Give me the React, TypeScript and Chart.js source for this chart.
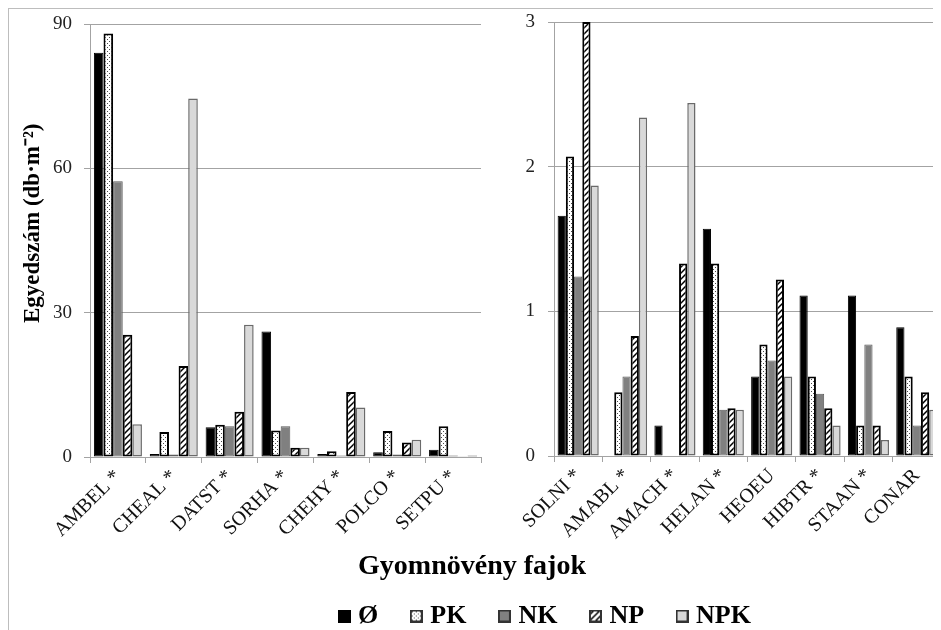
import React, { useEffect, useRef } from 'react';
import { Chart, registerables } from 'chart.js';
Chart.register(...registerables);

const leftCategories = ['AMBEL *', 'CHEAL *', 'DATST *', 'SORHA *', 'CHEHY *', 'POLCO *', 'SETPU *'];
const rightCategories = ['SOLNI *', 'AMABL *', 'AMACH *', 'HELAN *', 'HEOEU', 'HIBTR *', 'STAAN *', 'CONAR'];
const seriesNames = ['Ø', 'PK', 'NK', 'NP', 'NPK'];

const leftO = [84, 0.6, 6.2, 26.1, 0.6, 1.0, 1.5];
const leftPK = [88, 5.2, 6.7, 5.5, 1.2, 5.4, 6.4];
const leftNK = [57.3, 0.5, 6.4, 6.4, 0.3, 0.5, 0.3];
const leftNP = [25.4, 18.9, 9.4, 1.9, 13.5, 3.0, 0.15];
const leftNPK = [6.8, 74.5, 27.5, 1.9, 10.3, 3.6, 0.3];

const rightO = [1.66, 0, 0.21, 1.57, 0.55, 1.11, 1.11, 0.89];
const rightPK = [2.07, 0.44, 0, 1.33, 0.77, 0.55, 0.21, 0.55];
const rightNK = [1.24, 0.55, 0, 0.32, 0.66, 0.43, 0.77, 0.21];
const rightNP = [3.0, 0.83, 1.33, 0.33, 1.22, 0.33, 0.21, 0.44];
const rightNPK = [1.87, 2.34, 2.44, 0.32, 0.55, 0.21, 0.11, 0.32];

const leftTicks = [0, 30, 60, 90];
const rightTicks = [0, 1, 2, 3];

const yTitle = '      Egyedszám (db·m⁻²)';
const xTitle = 'Gyomnövény fajok';

const FONT = "'Liberation Serif', 'Times New Roman', serif";
const GRID = '#a3a3a3';

function dotTile(): HTMLCanvasElement {
  const c = document.createElement('canvas');
  c.width = 4; c.height = 4;
  const g = c.getContext('2d')!;
  g.fillStyle = '#ffffff'; g.fillRect(0, 0, 4, 4);
  g.fillStyle = '#4a4a4a';
  g.fillRect(0, 0, 1, 1); g.fillRect(2, 2, 1, 1);
  return c;
}
function hatchTile(): HTMLCanvasElement {
  const c = document.createElement('canvas');
  c.width = 6; c.height = 6;
  const g = c.getContext('2d')!;
  g.fillStyle = '#ffffff'; g.fillRect(0, 0, 6, 6);
  g.strokeStyle = '#000000'; g.lineWidth = 1.5;
  g.beginPath();
  g.moveTo(0, 6); g.lineTo(6, 0);
  g.moveTo(-1, 1); g.lineTo(1, -1);
  g.moveTo(5, 7); g.lineTo(7, 5);
  g.stroke();
  return c;
}

function makeStyles(ctx: CanvasRenderingContext2D) {
  const dot = ctx.createPattern(dotTile(), 'repeat')!;
  const hatch = ctx.createPattern(hatchTile(), 'repeat')!;
  return [
    { bg: '#000000', border: '#000000', bw: 1 },
    { bg: dot, border: '#000000', bw: 2 },
    { bg: '#808080', border: '#5a5a5a', bw: 1 },
    { bg: hatch, border: '#000000', bw: 2 },
    { bg: '#d9d9d9', border: '#6a6a6a', bw: 1.5 },
  ];
}

function legendImage(i: number): HTMLCanvasElement {
  const c = document.createElement('canvas');
  c.width = 13; c.height = 13;
  const g = c.getContext('2d')!;
  const st = makeStyles(g)[i];
  g.fillStyle = st.bg as any;
  g.fillRect(0, 0, 13, 13);
  g.strokeStyle = i === 0 ? '#000' : '#333';
  g.lineWidth = 2;
  g.strokeRect(1, 1, 11, 11);
  return c;
}

function barChart(canvas: HTMLCanvasElement, labels: string[], series: number[][], ticks: number[], max: number, opts: any) {
  const ctx = canvas.getContext('2d')!;
  const styles = makeStyles(ctx);
  return new Chart(canvas, {
    type: 'bar',
    data: {
      labels,
      datasets: series.map((d, i) => ({
        label: seriesNames[i],
        data: d,
        backgroundColor: styles[i].bg as any,
        borderColor: styles[i].border,
        borderWidth: styles[i].bw,
        borderSkipped: false,
        categoryPercentage: opts.catPct,
        barPercentage: 1,
      })),
    },
    options: {
      animation: false,
      responsive: false,
      maintainAspectRatio: false,
      layout: { padding: opts.padding },
      plugins: { legend: { display: false }, tooltip: { enabled: false }, title: { display: false } },
      scales: {
        x: {
          grid: { display: true, drawOnChartArea: false, drawTicks: true, tickLength: 6, color: GRID, offset: true },
          border: { color: GRID, width: 1 },
          ticks: { autoSkip: false, minRotation: 45, maxRotation: 45, padding: 2, color: '#111', font: { family: FONT, size: 20 } },
          afterFit: (s: any) => { s.height = opts.xHeight; },
        },
        y: {
          min: 0,
          max,
          afterBuildTicks: (s: any) => { s.ticks = ticks.map((v) => ({ value: v })); },
          grid: { color: GRID, tickLength: 6, lineWidth: 1 },
          border: { color: GRID, width: 1 },
          ticks: { padding: opts.tickPad, color: '#222', font: { family: FONT, size: 19 } },
          title: opts.title
            ? { display: true, text: opts.title, color: '#000', font: { family: FONT, size: 23, weight: 'bold' }, padding: { top: 10, bottom: 0 } }
            : { display: false },
          afterFit: (s: any) => { s.width = opts.yWidth; s.paddingTop = 0; s.paddingBottom = 0; },
        },
      },
    },
  } as any);
}

export default function App() {
  const leftRef = useRef<HTMLCanvasElement>(null);
  const rightRef = useRef<HTMLCanvasElement>(null);
  const titleRef = useRef<HTMLCanvasElement>(null);
  const legendRef = useRef<HTMLCanvasElement>(null);

  useEffect(() => {
    document.documentElement.style.overflow = 'hidden';
    const charts: Chart[] = [];
    charts.push(barChart(leftRef.current!, leftCategories, [leftO, leftPK, leftNK, leftNP, leftNPK], leftTicks, 90, {
      catPct: 0.86, padding: { left: 0, right: 8, top: 15, bottom: 0 }, xHeight: 92, yWidth: 81, tickPad: 12, title: yTitle,
    }));
    charts.push(barChart(rightRef.current!, rightCategories, [rightO, rightPK, rightNK, rightNP, rightNPK], rightTicks, 3, {
      catPct: 0.85, padding: { left: 0, right: 0, top: 13, bottom: 0 }, xHeight: 93, yWidth: 65, tickPad: 13, title: null,
    }));
    charts.push(new Chart(titleRef.current!, {
      type: 'bar',
      data: { labels: [], datasets: [] },
      options: {
        animation: false, responsive: false, maintainAspectRatio: false,
        scales: { x: { display: false }, y: { display: false } },
        plugins: {
          legend: { display: false }, tooltip: { enabled: false },
          title: { display: true, text: xTitle, color: '#000', font: { family: FONT, size: 28, weight: 'bold' }, padding: { top: 1, bottom: 0 } },
        },
      },
    } as any));
    const lctx = legendRef.current!.getContext('2d')!;
    const lstyles = makeStyles(lctx);
    const images = seriesNames.map((_, i) => legendImage(i));
    charts.push(new Chart(legendRef.current!, {
      type: 'bar',
      data: {
        labels: [],
        datasets: seriesNames.map((n, i) => ({ label: n, data: [], backgroundColor: lstyles[i].bg as any, borderColor: lstyles[i].border, borderWidth: 1 })),
      },
      options: {
        animation: false, responsive: false, maintainAspectRatio: false,
        layout: { padding: 0 },
        scales: { x: { display: false }, y: { display: false } },
        plugins: {
          tooltip: { enabled: false },
          legend: {
            position: 'top',
            labels: {
              usePointStyle: true,
              pointStyleWidth: 2,
              padding: 37,
              color: '#000',
              font: { family: FONT, size: 26, weight: 'bold' },
              generateLabels: (chart: any) =>
                Chart.defaults.plugins.legend.labels.generateLabels(chart).map((it: any, i: number) => ({ ...it, pointStyle: images[i] })),
            },
          },
        },
      },
    } as any));
    return () => charts.forEach((c) => c.destroy());
  }, []);

  return (
    <div style={{ position: 'relative', width: 932, height: 621, borderTop: '1px solid #bdbdbd', borderLeft: '1px solid #bdbdbd', background: '#fff' }}>
      <canvas ref={leftRef} width={480} height={540} style={{ position: 'absolute', left: 0, top: 0, width: 480, height: 540 }} />
      <canvas ref={rightRef} width={452} height={540} style={{ position: 'absolute', left: 480, top: 0, width: 452, height: 540 }} />
      <canvas ref={titleRef} width={932} height={40} style={{ position: 'absolute', left: -3, top: 540, width: 932, height: 40 }} />
      <canvas ref={legendRef} width={600} height={200} style={{ position: 'absolute', left: 238, top: 557, width: 600, height: 200 }} />
    </div>
  );
}
